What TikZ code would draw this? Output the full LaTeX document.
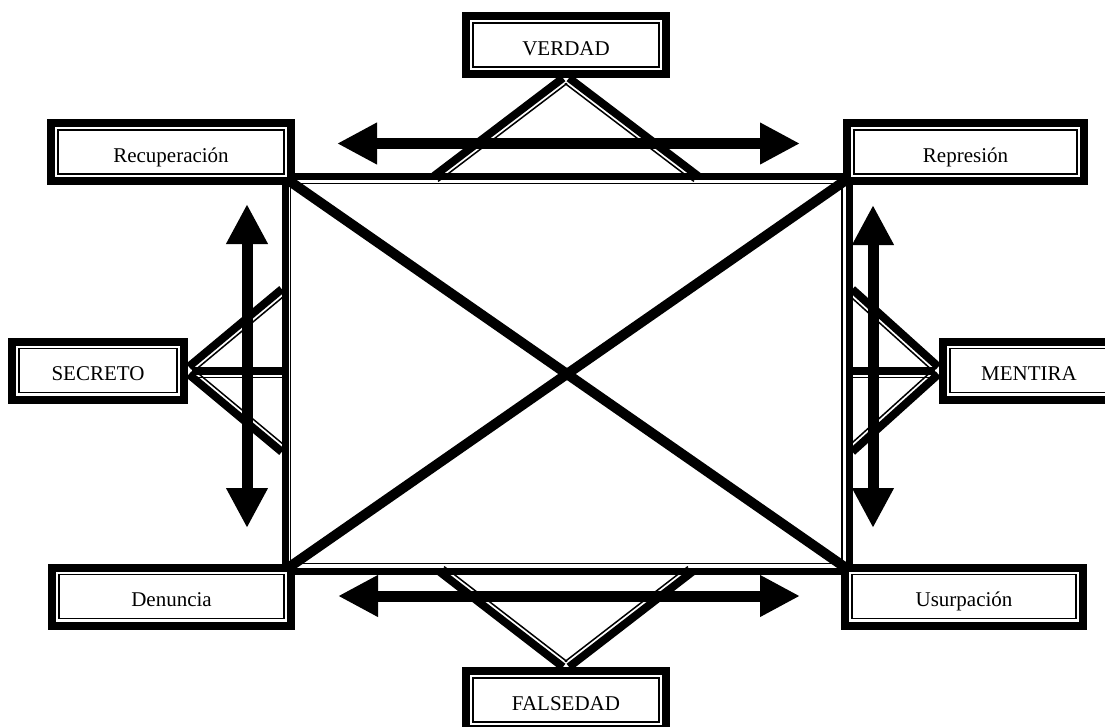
\documentclass[tikz,border=0pt]{standalone}
\usepackage{fontspec}
\setmainfont{Liberation Serif}
\usetikzlibrary{calc,arrows.meta}
\pgfdeclarelayer{bg}
\pgfsetlayers{bg,main}
\tikzset{
  dbox/.style={draw=black, fill=white, line width=8pt, inner sep=0pt,
    minimum height=58pt, text height=20pt, text depth=0pt,
    font=\fontsize{21}{25}\selectfont,
    path picture={\draw[line width=1.5pt]
      ([shift={(7pt,-7pt)}]path picture bounding box.north west) rectangle
      ([shift={(-7pt,7pt)}]path picture bounding box.south east);}},
  thickpart/.style={line width=7pt, line cap=butt, line join=miter},
  legthick/.style={line width=8pt, line cap=butt},
  thinpart/.style={line width=1.5pt, line join=miter},
  bigarrow/.style={line width=11pt,
    {Triangle[length=40pt,width=39pt]}-{Triangle[length=40pt,width=39pt]}},
  diag/.style={line width=10pt},
}
\newcommand\twoline[4]{%
  \draw[legthick] ($(#1)!5pt!#3:(#2)$) -- ($(#2)!5pt!#4:(#1)$);
  \draw[thinpart] ($(#1)!1.75pt!#4:(#2)$) -- ($(#2)!1.75pt!#3:(#1)$);
}
\begin{document}
\begin{tikzpicture}[x=1pt,y=-1pt]
\useasboundingbox (0,0) rectangle (1105,726);
% boxes
\node[dbox, minimum width=200pt] (verdad) at (566,45) {VERDAD};
\node[dbox, minimum width=240pt] (recup) at (171,152) {Recuperación};
\node[dbox, minimum width=237pt] (repres) at (965.5,152) {Represión};
\node[dbox, minimum width=172pt] (secreto) at (98,370.5) {SECRETO};
\node[dbox, minimum width=172pt] (mentira) at (1029,370.5) {MENTIRA};
\node[dbox, minimum width=239pt] (denuncia) at (171.5,596.5) {Denuncia};
\node[dbox, minimum width=238pt] (usurp) at (964,596.5) {Usurpación};
\node[dbox, minimum width=200pt] (falsedad) at (566,700) {FALSEDAD};
\begin{pgfonlayer}{bg}
% connector ends
\coordinate (vA) at ([yshift=-4pt]verdad.south);
\coordinate (vL) at (437,180);
\coordinate (vR) at (695,180);
\coordinate (fA) at ([yshift=4pt]falsedad.north);
\coordinate (fL) at (443,568);
\coordinate (fR) at (689,568);
\coordinate (sA) at ([xshift=4pt]secreto.east);
\coordinate (sAm) at ([yshift=-5pt]sA);
\coordinate (sU) at (285,293);
\coordinate (sM) at (285,375.5);
\coordinate (sD) at (285,448);
\coordinate (mA) at ([xshift=-4pt]mentira.west);
\coordinate (mAm) at ([yshift=-5pt]mA);
\coordinate (mU) at (849,293);
\coordinate (mM) at (849,375.5);
\coordinate (mD) at (849,448);
% legs
\twoline{vA}{vL}{-90}{90}
\twoline{vA}{vR}{90}{-90}
\twoline{fA}{fL}{90}{-90}
\twoline{fA}{fR}{-90}{90}
\twoline{sA}{sU}{90}{-90}
\twoline{sAm}{sM}{90}{-90}
\twoline{sA}{sD}{-90}{90}
\twoline{mA}{mU}{-90}{90}
\twoline{mAm}{mM}{-90}{90}
\twoline{mA}{mD}{90}{-90}
% rectangle
\coordinate (TL) at (285,176.5);
\coordinate (BR) at (849,571.5);
\coordinate (tl) at (290.5,183.5);
\coordinate (br) at (842,563.5);
\draw[thickpart] (TL) rectangle (BR);
\draw[thinpart] (tl) rectangle (br);
% diagonals
\coordinate (d1) at (288,180);
\coordinate (d2) at (846,568);
\coordinate (d3) at (846,180);
\coordinate (d4) at (288,568);
\draw[diag] (d1) -- (d2);
\draw[diag] (d3) -- (d4);
% arrows
\coordinate (ta1) at (337,143.5);
\coordinate (ta2) at (800,143.5);
\coordinate (ba1) at (338,596);
\coordinate (ba2) at (800,596);
\coordinate (la1) at (247,204);
\coordinate (la2) at (247,528);
\coordinate (ra1) at (873,205);
\coordinate (ra2) at (873,528);
\draw[bigarrow] (ta1) -- (ta2);
\draw[bigarrow] (ba1) -- (ba2);
\draw[bigarrow] (la1) -- (la2);
\draw[bigarrow] (ra1) -- (ra2);
\end{pgfonlayer}
\end{tikzpicture}
\end{document}
